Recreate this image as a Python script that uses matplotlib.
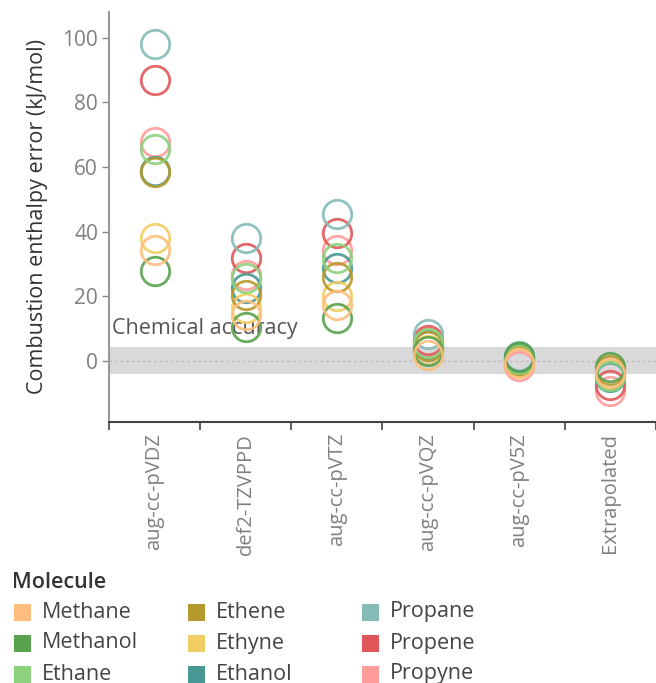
import matplotlib
matplotlib.use("Agg")
import matplotlib.pyplot as plt
from matplotlib.patches import Rectangle

plt.rcParams['font.family'] = ['Open Sans', 'DejaVu Sans']

basis_sets = ["aug-cc-pVDZ", "def2-TZVPPD", "aug-cc-pVTZ", "aug-cc-pVQZ", "aug-cc-pV5Z", "Extrapolated"]
molecules = ["Methane", "Methanol", "Ethane", "Ethene", "Ethyne", "Ethanol", "Propane", "Propene", "Propyne"]
colors = ["#ffbe7d", "#59a14f", "#8cd17d", "#b6992d", "#f1ce63", "#499894", "#86bcb6", "#e15759", "#ff9d9a"]

errors = {
    "Methane":  [34.3, 14.2, 17.3, 1.9, -0.6, -3.8],
    "Methanol": [27.9, 10.5, 13.2, 2.9, 1.0, -2.1],
    "Ethane":   [65.7, 25.6, 31.7, 5.5, 0.5, -4.9],
    "Ethene":   [58.3, 20.4, 25.9, 4.6, 0.3, -3.0],
    "Ethyne":   [37.9, 16.3, 20.1, 3.4, -0.3, -4.0],
    "Ethanol":  [58.8, 22.5, 28.7, 4.9, 1.2, -5.0],
    "Propane":  [98.2, 37.9, 45.4, 8.2, 1.5, -4.3],
    "Propene":  [86.9, 31.7, 39.5, 6.5, 0.0, -7.4],
    "Propyne":  [67.8, 26.6, 34.3, 5.7, -1.8, -9.5],
}
chem_acc = 4.184

W, H = 656, 683
fig = plt.figure(figsize=(W/100, H/100), dpi=100)
ax = fig.add_axes([109/W, 1-422/H, 1-109/W, (422-12)/H])

x = list(range(len(basis_sets)))
ax.axhspan(-chem_acc, chem_acc, color="#d9d9d9", zorder=0, lw=0)
ax.axhline(0, color="#bbbbbb", lw=1, ls=(0, (2, 2)), zorder=0.5)
ax.text(-0.47, 6.6, "Chemical accuracy", fontsize=15.5, color="#555555", ha="left", va="bottom", zorder=1)

for m, c in reversed(list(zip(molecules, colors))):
    ax.plot(x, errors[m], ls="none", marker="o", ms=20.5, mfc="none", mec=c, mew=2.0, alpha=0.9, zorder=3)

ax.set_xlim(-0.5, 5.5)
ax.set_ylim(-19, 108)
ax.set_xticks(x)
ax.set_xticklabels(basis_sets, rotation=90, fontsize=14.5, color="#808080")
ax.set_xticks([i - 0.5 for i in range(7)], minor=True)
ax.tick_params(axis="x", which="major", length=0, pad=8)
ax.tick_params(axis="x", which="minor", length=6, width=1.2, color="#444444")
ax.set_yticks([0, 20, 40, 60, 80, 100])
ax.tick_params(axis="y", length=5, width=1, color="#888888", labelsize=15, labelcolor="#808080", pad=3)
ax.set_ylabel("Combustion enthalpy error (kJ/mol)", fontsize=15.5, color="#333333", fontweight="medium", labelpad=10)

for s in ["top", "right"]:
    ax.spines[s].set_visible(False)
ax.spines["left"].set_color("#999999")
ax.spines["left"].set_linewidth(1.5)
ax.spines["bottom"].set_color("#444444")
ax.spines["bottom"].set_linewidth(1.5)

# legend (manual layout)
fig.text(12/W, 1-583/H, "Molecule", fontsize=15.5, fontweight="semibold", color="#333333", ha="left", va="center")
col_x = [14, 188, 362]
row_y = [612, 643, 674]
for i, (m, c) in enumerate(zip(molecules, colors)):
    cx = col_x[i // 3]
    cy = row_y[i % 3]
    fig.patches.append(Rectangle((cx/W, 1-(cy+8.5)/H), 17/W, 17/H, transform=fig.transFigure,
                                 facecolor=c, edgecolor="none"))
    fig.text((cx+28)/W, 1-cy/H, m, fontsize=15.5, color="#444444", ha="left", va="center")

fig.savefig("out.png", dpi=100)
